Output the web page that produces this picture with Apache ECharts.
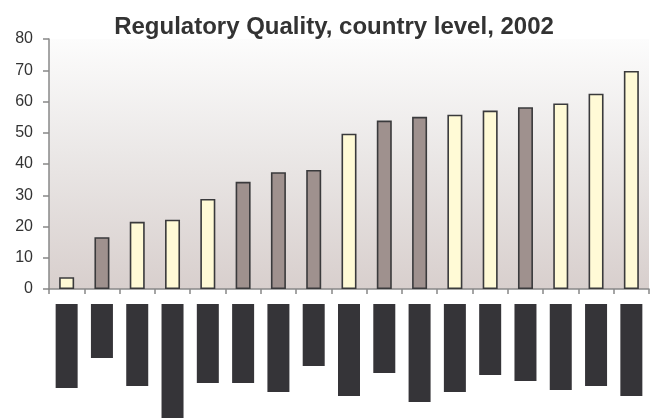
<!DOCTYPE html>
<html>
<head>
<meta charset="utf-8">
<script src="https://cdn.jsdelivr.net/npm/echarts@6/dist/echarts.min.js"></script>
<style>
  html, body { margin: 0; padding: 0; background: #ffffff; }
  #chart { width: 655px; height: 418px; }
</style>
</head>
<body>
<div id="chart"></div>
<script>
// Regulatory Quality scores per country, 2002 (sorted ascending)
const categories = ['C1','C2','C3','C4','C5','C6','C7','C8','C9','C10','C11','C12','C13','C14','C15','C16','C17'];
const scores = [3.8, 16.6, 21.5, 22.2, 28.8, 34.3, 37.4, 38.1, 49.7, 53.9, 55.1, 55.8, 57.1, 58.2, 59.4, 62.5, 69.8];
// group of each country: 'a' = light bars, 'b' = dark bars
const groups = ['a','b','a','a','a','b','b','b','a','b','b','a','a','b','a','a','a'];
// length of the country label blocks under the axis
const labelBlocks = [84, 54, 82, 114, 79, 79, 88, 62, 92, 69, 98, 88, 71, 77, 86, 82, 92];
const yTicks = [0, 10, 20, 30, 40, 50, 60, 70, 80];

const groupColor = { a: '#fffad6', b: '#9f918e' };

const chart = echarts.init(document.getElementById('chart'), null, { renderer: 'canvas' });

chart.setOption({
  animation: false,
  title: {
    text: 'Regulatory Quality, country level, 2002',
    left: 329,
    textAlign: 'center',
    top: 10,
    textStyle: { fontFamily: 'Liberation Sans, Arial, sans-serif', fontSize: 24, fontWeight: 'bold', color: '#333333' }
  },
  grid: [
    {
      left: 49, right: 6, top: 39, height: 250,
      show: true,
      borderWidth: 0,
      backgroundColor: new echarts.graphic.LinearGradient(0, 0, 0, 1, [
        { offset: 0, color: '#fcfcfc' },
        { offset: 0.45, color: '#ebe8e7' },
        { offset: 1, color: '#d8cfcd' }
      ])
    },
    { left: 49, right: 6, top: 304, height: 114 }
  ],
  xAxis: [
    {
      type: 'category', gridIndex: 0, data: categories,
      boundaryGap: true,
      axisLine: { lineStyle: { color: '#888888', width: 1.5 } },
      axisTick: { show: true, length: 5, inside: false, alignWithLabel: false, lineStyle: { color: '#888888', width: 1.5 } },
      axisLabel: { show: false }
    },
    {
      type: 'category', gridIndex: 1, data: categories, position: 'top',
      axisLine: { show: false }, axisTick: { show: false }, axisLabel: { show: false }
    }
  ],
  yAxis: [
    {
      type: 'value', gridIndex: 0, min: 0, max: 80, interval: 10,
      axisLine: { show: true, lineStyle: { color: '#888888', width: 1.5 } },
      axisTick: { show: true, length: 6, lineStyle: { color: '#888888', width: 1.5 } },
      splitLine: { show: false },
      axisLabel: {
        margin: 16,
        color: '#333333',
        fontFamily: 'Liberation Sans, Arial, sans-serif',
        fontSize: 16,
        formatter: v => (yTicks.includes(v) ? String(v) : '')
      }
    },
    {
      type: 'value', gridIndex: 1, min: 0, max: 114, inverse: true,
      axisLine: { show: false }, axisTick: { show: false }, axisLabel: { show: false }, splitLine: { show: false }
    }
  ],
  series: [
    {
      type: 'bar', xAxisIndex: 0, yAxisIndex: 0,
      barWidth: 15,
      data: scores.map((v, i) => ({
        value: v,
        itemStyle: { color: groupColor[groups[i]], borderColor: '#3a3a3c', borderWidth: 1.6 }
      }))
    },
    {
      type: 'bar', xAxisIndex: 1, yAxisIndex: 1,
      barWidth: 22,
      itemStyle: { color: '#353438' },
      data: labelBlocks
    }
  ]
});
</script>
</body>
</html>
